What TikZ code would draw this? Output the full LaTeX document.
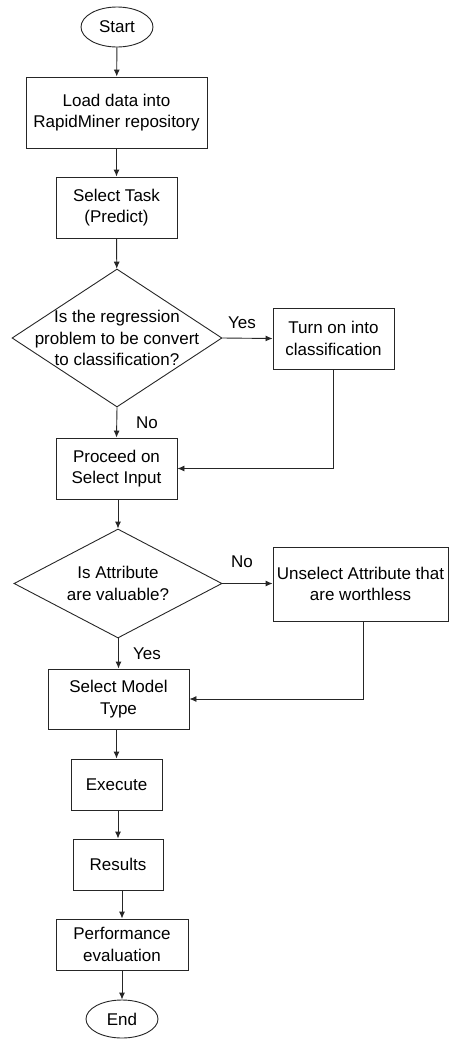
\documentclass[tikz,border=0pt]{standalone}
\usepackage{fontspec}
\setmainfont{Liberation Sans}
\usetikzlibrary{shapes.geometric,arrows.meta}
\begin{document}
\begin{tikzpicture}[x=1pt,y=-1pt,
  every node/.style={font=\fontsize{17}{21.5}\selectfont, text=black},
  box/.style={draw=black!85, line width=0.9pt, rectangle, align=center, inner sep=2pt},
  term/.style={draw=black!85, line width=0.9pt, ellipse, inner sep=0pt},
  decision/.style={draw=black!85, line width=0.9pt, diamond, inner sep=0pt},
  arr/.style={draw=black!85, line width=0.9pt, -{Latex[length=7pt,width=6pt]}},
  lbl/.style={inner sep=0pt}
]
\useasboundingbox (0,0) rectangle (449,1039);

\node[term, minimum width=72pt, minimum height=40pt] (start) at (117,27) {Start};
\node[box, minimum width=181pt, minimum height=71pt] (load) at (116.5,112.5) {Load data into\\RapidMiner repository};
\node[box, minimum width=121pt, minimum height=61pt] (task) at (116.5,207.5) {Select Task\\(Predict)};
\node[decision, minimum width=210pt, minimum height=138pt,
  label={[align=center]center:Is the regression\\problem to be convert\\to classification?}] (d1) at (117,338) {};
\node[box, minimum width=121pt, minimum height=61pt] (turn) at (333.5,338.5) {Turn on into\\classification};
\node[box, minimum width=121pt, minimum height=61pt] (proceed) at (116.5,468.5) {Proceed on\\Select Input};
\node[decision, minimum width=208pt, minimum height=109pt,
  label={[align=center]center:Is Attribute\\are valuable?}] (d2) at (118,583.5) {};
\node[box, minimum width=175pt, minimum height=74pt] (unsel) at (360.5,584) {Unselect Attribute that\\are worthless};
\node[box, minimum width=141pt, minimum height=60pt] (model) at (118.5,699) {Select Model\\Type};
\node[box, minimum width=91pt, minimum height=51pt] (exec) at (116.5,784.5) {Execute};
\node[box, minimum width=90pt, minimum height=51pt] (res) at (118,864.5) {Results};
\node[box, minimum width=132pt, minimum height=51pt] (perf) at (122,944.5) {Performance\\evaluation};
\node[term, minimum width=72pt, minimum height=38pt] (end) at (122,1019) {End};

\node[lbl] (yes1) at (242,323) {Yes};
\node[lbl] (no1) at (147,423) {No};
\node[lbl] (no2) at (242,562) {No};
\node[lbl] (yes2) at (147,654) {Yes};

\draw[arr] (start) -- (load);
\draw[arr] (load) -- (task);
\draw[arr] (task) -- (d1);
\draw[arr] (d1.east) -- (turn.west);
\draw[arr] (d1.south) -- (proceed.north);
\draw[arr] (turn.south) |- (proceed.east);
\draw[arr] (proceed.south -| d2.north) -- (d2.north);
\draw[arr] (d2.east) -- (d2.east -| unsel.west);
\draw[arr] (d2.south -| model.north) -- (model.north);
\draw[arr] ([xshift=2.5pt]unsel.south) |- (model.east);
\draw[arr] (model.south -| exec.north) -- (exec.north);
\draw[arr] (exec.south -| res.north) -- (res.north);
\draw[arr] (res.south -| perf.north) -- (perf.north);
\draw[arr] (perf) -- (end);
\end{tikzpicture}
\end{document}
